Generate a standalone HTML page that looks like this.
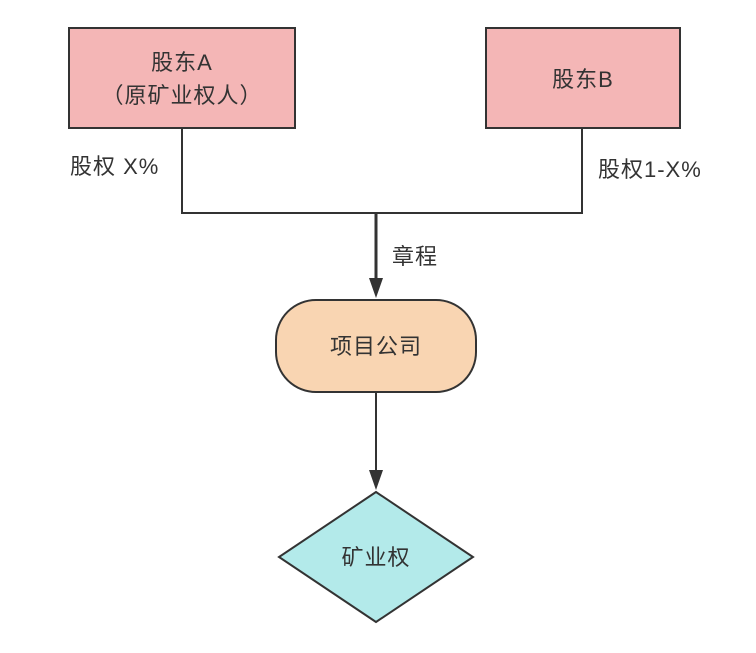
<!DOCTYPE html>
<html><head><meta charset="utf-8"><style>
body{margin:0;background:#fff;}
svg text{font-family:"Liberation Sans","Noto Sans CJK SC",sans-serif;fill:#333;letter-spacing:1px;}
</style></head><body>
<svg width="756" height="648" viewBox="0 0 756 648" xmlns="http://www.w3.org/2000/svg">
<rect width="756" height="648" fill="#fff"/>
<rect x="69" y="28" width="226" height="100" fill="#f4b6b6" stroke="#333" stroke-width="2"/>
<rect x="486" y="28" width="194" height="100" fill="#f4b6b6" stroke="#333" stroke-width="2"/>
<text x="182" y="70" font-size="22" text-anchor="middle">股东A</text>
<text x="182" y="103" font-size="22" text-anchor="middle">（原矿业权人）</text>
<text x="583" y="87" font-size="22" text-anchor="middle">股东B</text>
<polyline points="182,128 182,213 582,213 582,128" fill="none" stroke="#333" stroke-width="2"/>
<line x1="376" y1="213" x2="376" y2="280" stroke="#333" stroke-width="3"/>
<polygon points="369,278 383,278 376,298" fill="#333"/>
<text x="70" y="174" font-size="22">股权 X%</text>
<text x="598" y="177" font-size="22">股权1-X%</text>
<text x="392" y="264" font-size="22">章程</text>
<rect x="276" y="300" width="200" height="92" rx="40" fill="#f9d5b2" stroke="#333" stroke-width="2"/>
<text x="376" y="354" font-size="22" text-anchor="middle">项目公司</text>
<line x1="376" y1="392" x2="376" y2="472" stroke="#333" stroke-width="2"/>
<polygon points="369,470 383,470 376,490" fill="#333"/>
<polygon points="376,492 473,557 376,622 279,557" fill="#b3eaea" stroke="#333" stroke-width="2"/>
<text x="376" y="565" font-size="22" text-anchor="middle">矿业权</text>
</svg>
</body></html>
